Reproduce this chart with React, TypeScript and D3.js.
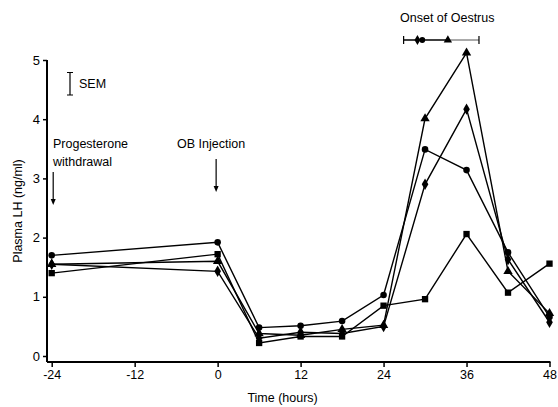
import React, { useEffect, useRef } from "react";
import * as d3 from "d3";

// time points (hours)
const hours = [-24, 0, 6, 12, 18, 24, 30, 36, 42, 48];
const xTicks = [-24, -12, 0, 12, 24, 36, 48];
const yTicks = [0, 1, 2, 3, 4, 5];

// plasma LH (ng/ml) per group
const circleLH = [1.7, 1.92, 0.48, 0.51, 0.59, 1.03, 3.49, 3.14, 1.75, 0.66];
const triangleLH = [1.55, 1.6, 0.38, 0.35, 0.45, 0.52, 4.01, 5.12, 1.43, 0.72];
const diamondLH = [1.55, 1.43, 0.3, 0.4, 0.38, 0.5, 2.9, 4.17, 1.63, 0.57];
const squareLH = [1.4, 1.72, 0.22, 0.33, 0.33, 0.85, 0.96, 2.06, 1.07, 1.56];

// onset of oestrus (hours)
const onsetRange = [26.9, 37.8];
const onsetDiamond = 28.9;
const onsetCircle = 29.6;
const onsetTriangle = 33.3;

const semValue = 0.38;

const W = 558;
const H = 407;
const FONT = "'Liberation Sans', Arial, sans-serif";

const App = () => {
  const svgRef = useRef<SVGSVGElement>(null);

  useEffect(() => {
    if (svgRef.current) drawChart();
  }, []);

  const drawChart = () => {
    const svg = d3.select(svgRef.current);
    svg.selectAll("*").remove();

    const x = d3.scaleLinear().domain([-24, 48]).range([51.7, 549.5]);
    const y = d3.scaleLinear().domain([0, 5]).range([356, 60]);
    const axisX = 47;
    const axisY = 362;

    // y axis
    const yAxis = svg
      .append("g")
      .attr("transform", `translate(${axisX},0)`)
      .call(d3.axisLeft(y).tickValues(yTicks).tickSize(4).tickPadding(3).tickFormat((d) => String(d)));
    yAxis.select(".domain").attr("d", `M0,${y(5)}V${axisY}`).attr("stroke-width", 2);
    yAxis.selectAll("text").attr("font-family", FONT).attr("font-size", 13).attr("fill", "#000");
    yAxis.selectAll("line").attr("stroke-width", 1.5);

    // x axis
    const xAxis = svg
      .append("g")
      .attr("transform", `translate(0,${axisY})`)
      .call(d3.axisBottom(x).tickValues(xTicks).tickSize(5).tickPadding(3).tickFormat((d) => String(d)));
    xAxis.select(".domain").attr("d", `M${axisX},0H${x(48) + 1}`).attr("stroke-width", 2);
    xAxis.selectAll("text").attr("font-family", FONT).attr("font-size", 12.5).attr("fill", "#000");
    xAxis.selectAll("line").attr("stroke-width", 1.5);

    svg
      .append("text")
      .attr("x", x(12) - 18)
      .attr("y", 402)
      .attr("text-anchor", "middle")
      .attr("font-family", FONT)
      .attr("font-size", 12.5)
      .text("Time (hours)");

    svg
      .append("text")
      .attr("transform", `translate(22,${y(2.45)}) rotate(-90)`)
      .attr("text-anchor", "middle")
      .attr("font-family", FONT)
      .attr("font-size", 12.5)
      .text("Plasma LH (ng/ml)");

    // series
    const series = [
      { values: circleLH, symbol: d3.symbolCircle, size: 34 },
      { values: triangleLH, symbol: d3.symbolTriangle, size: 38 },
      { values: diamondLH, symbol: d3.symbolDiamond, size: 38 },
      { values: squareLH, symbol: d3.symbolSquare, size: 40 },
    ];

    const line = d3
      .line<number>()
      .x((d, i) => x(hours[i]))
      .y((d) => y(d));

    series.forEach((s) => {
      svg
        .append("path")
        .attr("d", line(s.values))
        .attr("fill", "none")
        .attr("stroke", "#000")
        .attr("stroke-width", 1.4);
      svg
        .selectAll(null)
        .data(s.values)
        .enter()
        .append("path")
        .attr("d", d3.symbol().type(s.symbol).size(s.size)())
        .attr("transform", (d, i) => `translate(${x(hours[i])},${y(d)})`)
        .attr("fill", "#000");
    });

    // SEM bar
    const semTop = 72.5;
    const semBot = semTop + (y(0) - y(semValue));
    svg
      .append("path")
      .attr("d", `M67,${semTop}H73M70,${semTop}V${semBot}M67,${semBot}H73`)
      .attr("stroke", "#000")
      .attr("stroke-width", 1.2)
      .attr("fill", "none");
    svg
      .append("text")
      .attr("x", 79)
      .attr("y", 88)
      .attr("font-family", FONT)
      .attr("font-size", 12.5)
      .text("SEM");

    // annotations
    const arrow = (ax: number, y1: number, y2: number) => {
      svg
        .append("line")
        .attr("x1", ax)
        .attr("x2", ax)
        .attr("y1", y1)
        .attr("y2", y2 - 5)
        .attr("stroke", "#000")
        .attr("stroke-width", 1.2);
      svg
        .append("path")
        .attr("d", `M${ax - 2.5},${y2 - 6}L${ax + 2.5},${y2 - 6}L${ax},${y2}Z`)
        .attr("fill", "#000");
    };

    const prog = svg
      .append("text")
      .attr("x", 53)
      .attr("font-family", FONT)
      .attr("font-size", 12.5);
    prog.append("tspan").attr("x", 53).attr("y", 148).text("Progesterone");
    prog.append("tspan").attr("x", 53).attr("y", 166).text("withdrawal");
    arrow(x(-24) + 1.5, 172, 205);

    svg
      .append("text")
      .attr("x", 177)
      .attr("y", 148)
      .attr("font-family", FONT)
      .attr("font-size", 12.5)
      .text("OB Injection");
    arrow(x(0) - 1.5, 159, 192);

    // onset of oestrus
    svg
      .append("text")
      .attr("x", 400)
      .attr("y", 22)
      .attr("font-family", FONT)
      .attr("font-size", 12.5)
      .text("Onset of Oestrus");

    const oy = 40;
    svg
      .append("path")
      .attr("d", `M${x(onsetRange[0])},${oy}H${x(onsetTriangle)}`)
      .attr("stroke", "#000")
      .attr("stroke-width", 1.3);
    svg
      .append("path")
      .attr("d", `M${x(onsetTriangle)},${oy}H${x(onsetRange[1])}`)
      .attr("stroke", "#555")
      .attr("stroke-width", 1);
    svg
      .append("path")
      .attr(
        "d",
        `M${x(onsetRange[0])},${oy - 4}V${oy + 4}M${x(onsetRange[1])},${oy - 4}V${oy + 4}`
      )
      .attr("stroke", "#000")
      .attr("stroke-width", 1.2);
    const onsetMarks = [
      { t: onsetDiamond, symbol: d3.symbolDiamond, size: 30 },
      { t: onsetCircle, symbol: d3.symbolCircle, size: 26 },
      { t: onsetTriangle, symbol: d3.symbolTriangle, size: 30 },
    ];
    svg
      .selectAll(null)
      .data(onsetMarks)
      .enter()
      .append("path")
      .attr("d", (d) => d3.symbol().type(d.symbol).size(d.size)())
      .attr("transform", (d) => `translate(${x(d.t)},${oy})`)
      .attr("fill", "#000");
  };

  return (
    <svg
      ref={svgRef}
      width={W}
      height={H}
      style={{ position: "absolute", left: 0, top: 0, background: "#fff" }}
    />
  );
};

export default App;
